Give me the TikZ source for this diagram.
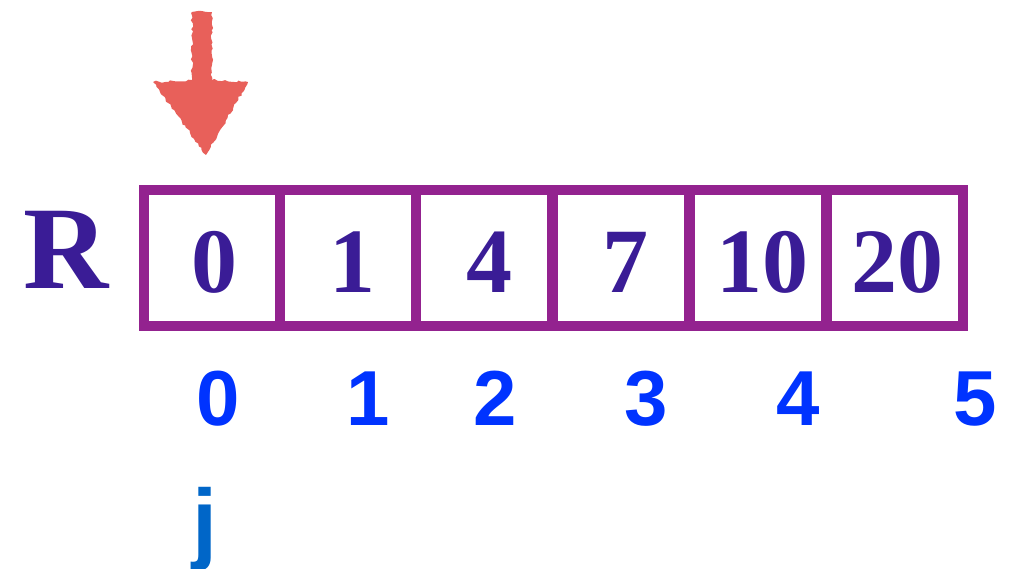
\documentclass[tikz,border=0pt]{standalone}
\usepackage{fontspec}
\newfontfamily\serifbf{Liberation Serif}[BoldFont={* Bold}]
\newfontfamily\sansbf{Liberation Sans}[BoldFont={* Bold}]
\usetikzlibrary{decorations.pathmorphing}
\definecolor{boxpurple}{HTML}{93228F}
\definecolor{textpurple}{HTML}{3A1C96}
\definecolor{idxblue}{HTML}{0033FF}
\definecolor{jblue}{HTML}{0066C8}
\definecolor{arrowred}{HTML}{E8605A}
\tikzset{
  cell/.style={draw=boxpurple, line width=10pt, minimum width=136pt, minimum height=136pt, inner sep=0pt},
  val/.style={anchor=base, inner sep=0pt, text=textpurple, font=\serifbf\bfseries\fontsize{92}{92}\selectfont},
  idx/.style={anchor=base, text=idxblue, inner sep=0pt, font=\sansbf\bfseries\fontsize{78}{78}\selectfont},
}
\begin{document}
\begin{tikzpicture}[x=1pt,y=-1pt]
\useasboundingbox (0,0) rectangle (1020,568);
\clip (0,0) rectangle (1020,568);
% cells
\node[cell] (c0) at (212,258) {};
\node[cell] (c1) at (348,258) {};
\node[cell] (c2) at (484,258) {};
\node[cell] (c3) at (621,258) {};
\node[cell] (c4) at (758,258) {};
\node[cell] (c5) at (895,258) {};
% values
\node[val] (v0) at (214,292) {0};
\node[val] (v1) at (352,292) {1};
\node[val] (v2) at (489,292) {4};
\node[val] (v3) at (625,292) {7};
\node[val] (v4) at (762,292) {10};
\node[val] (v5) at (897,292) {20};
% R label
\node[anchor=base, inner sep=0pt, text=textpurple, font=\serifbf\bfseries\fontsize{118}{118}\selectfont] (R) at (66,288) {R};
% indices
\node[idx] (i0) at (218,425) {0};
\node[idx] (i1) at (368,425) {1};
\node[idx] (i2) at (495,425) {2};
\node[idx] (i3) at (646,425) {3};
\node[idx] (i4) at (798,425) {4};
\node[idx] (i5) at (975,425) {5};
% j
\node[anchor=base, inner sep=0pt, text=jblue, font=\sansbf\bfseries\fontsize{90}{90}\selectfont] (j) at (205,552) {j};
% pointer arrow
\fill[arrowred, decorate, decoration={random steps, segment length=3pt, amplitude=1.2pt}]
  (192,12) -- (212,12) -- (212,80) -- (248,82) -- (206,155) -- (153,82) -- (192,80) -- cycle;
\end{tikzpicture}
\end{document}
